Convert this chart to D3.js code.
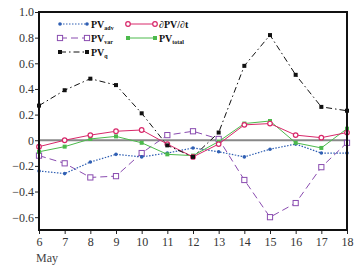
<!DOCTYPE html>
<html>
<head>
<meta charset="utf-8">
<script src="https://cdn.jsdelivr.net/npm/d3@7"></script>
<style>
body { margin: 0; background: #fff; }
text { font-family: "Liberation Serif", "DejaVu Serif", serif; }
</style>
</head>
<body>
<div id="viz"></div>
<script>
const days = [6, 7, 8, 9, 10, 11, 12, 13, 14, 15, 16, 17, 18];
const yTicks = [-0.6, -0.4, -0.2, 0, 0.2, 0.4, 0.6, 0.8, 1.0];
const pvAdv = [-0.24, -0.26, -0.17, -0.11, -0.13, -0.10, -0.06, -0.09, -0.13, -0.07, -0.03, -0.10, -0.10];
const dPVdt = [-0.05, 0.00, 0.04, 0.07, 0.08, -0.03, -0.13, -0.03, 0.12, 0.13, 0.04, 0.02, 0.06];
const pvVar = [-0.12, -0.18, -0.29, -0.28, -0.10, 0.04, 0.07, 0.01, -0.31, -0.60, -0.49, -0.21, -0.02];
const pvTotal = [-0.09, -0.05, 0.01, 0.03, -0.02, -0.11, -0.12, -0.01, 0.13, 0.15, -0.02, -0.06, 0.09];
const pvQ = [0.27, 0.39, 0.48, 0.43, 0.21, -0.04, -0.13, 0.06, 0.58, 0.82, 0.51, 0.26, 0.23];

const width = 359, height = 269;
const margin = {top: 12, right: 12, bottom: 39, left: 39};

const series = [
	{name: 'PV', sub: 'adv', values: pvAdv, color: '#2f5fb3', dash: '1.5,1.5', marker: 'dot'},
	{name: '∂PV/∂t', sub: '', values: dPVdt, color: '#d8286a', dash: null, marker: 'ring'},
	{name: 'PV', sub: 'var', values: pvVar, color: '#8a4cb0', dash: '7,4', marker: 'box'},
	{name: 'PV', sub: 'total', values: pvTotal, color: '#4cba4c', dash: null, marker: 'square'},
	{name: 'PV', sub: 'q', values: pvQ, color: '#111', dash: '6,3,1.5,3', marker: 'square'}
];

const x = d3.scaleLinear().domain([6, 18]).range([margin.left, width - margin.right]);
const y = d3.scaleLinear().domain([-0.7, 1.0]).range([height - margin.bottom, margin.top]);

const svg = d3.select('#viz').append('svg')
	.attr('width', width)
	.attr('height', height);

// zero line
svg.append('line')
	.attr('x1', x(6)).attr('x2', x(18))
	.attr('y1', y(0)).attr('y2', y(0))
	.attr('stroke', '#888').attr('stroke-width', 2);

const xAxis = svg.append('g')
	.attr('transform', `translate(0, ${y(-0.7)})`)
	.call(d3.axisBottom(x).tickValues(days).tickFormat(d3.format('d')).tickSize(4));
const yAxis = svg.append('g')
	.attr('transform', `translate(${x(6)}, 0)`)
	.call(d3.axisLeft(y).tickValues(yTicks).tickSize(4)
		.tickFormat(d => d === 0 ? '0' : d3.format('.1f')(d).replace('-', '\u2212')));

[xAxis, yAxis].forEach(g => {
	g.select('.domain').remove();
	g.selectAll('text').attr('font-family', '"Liberation Serif", serif').attr('font-size', 12).attr('fill', '#333');
	g.selectAll('line').attr('stroke', '#222');
});
yAxis.selectAll('text').attr('x', -5);
xAxis.selectAll('text').attr('y', 7);

svg.append('text')
	.attr('x', 36).attr('y', 262)
	.attr('font-size', 12).attr('fill', '#444')
	.text('May');

const line = d3.line().x((d, i) => x(days[i])).y(d => y(d));

function drawMarker(g, type, color, cx, cy) {
	if (type === 'dot') {
		g.append('circle').attr('cx', cx).attr('cy', cy).attr('r', 1.8).attr('fill', color);
	} else if (type === 'ring') {
		g.append('circle').attr('cx', cx).attr('cy', cy).attr('r', 2.3)
			.attr('fill', '#fff').attr('stroke', color).attr('stroke-width', 1.2);
	} else if (type === 'box') {
		g.append('rect').attr('x', cx - 2.6).attr('y', cy - 2.6).attr('width', 5.2).attr('height', 5.2)
			.attr('fill', '#fff').attr('stroke', color).attr('stroke-width', 1);
	} else {
		g.append('rect').attr('x', cx - 2).attr('y', cy - 2).attr('width', 4).attr('height', 4)
			.attr('fill', color);
	}
}

const drawOrder = [2, 0, 3, 1, 4];
drawOrder.forEach(k => {
	const s = series[k];
	const g = svg.append('g');
	g.append('path')
		.attr('d', line(s.values))
		.attr('fill', 'none')
		.attr('stroke', s.color)
		.attr('stroke-width', s.marker === 'dot' ? 1.2 : 1)
		.attr('stroke-dasharray', s.dash);
	s.values.forEach((v, i) => drawMarker(g, s.marker, s.color, x(days[i]), y(v)));
});

// frame
svg.append('rect')
	.attr('x', x(6)).attr('y', y(1.0))
	.attr('width', x(18) - x(6)).attr('height', y(-0.7) - y(1.0))
	.attr('fill', 'none').attr('stroke', '#111').attr('stroke-width', 2);

// legend
const legendPos = [[60, 24], [128, 24], [60, 38], [128, 38], [60, 52]];
series.forEach((s, k) => {
	const [lx, ly] = legendPos[k];
	const g = svg.append('g');
	g.append('line')
		.attr('x1', lx).attr('x2', lx + 27).attr('y1', ly).attr('y2', ly)
		.attr('stroke', s.color).attr('stroke-width', 1)
		.attr('stroke-dasharray', s.dash);
	drawMarker(g, s.marker, s.color, lx, ly);
	drawMarker(g, s.marker, s.color, lx + 27, ly);
	const t = g.append('text')
		.attr('x', lx + 31).attr('y', ly + 3.5)
		.attr('font-size', 10).attr('font-weight', 'bold').attr('fill', '#111');
	t.append('tspan').text(s.name);
	if (s.sub) {
		t.append('tspan').attr('font-size', 6).attr('dy', 2).text(s.sub);
	}
});
</script>
</body>
</html>
